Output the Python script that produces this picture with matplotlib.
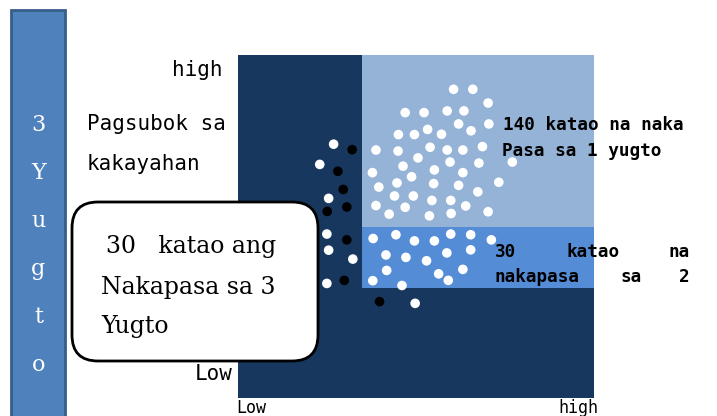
import matplotlib
matplotlib.use("Agg")
import matplotlib.pyplot as plt
from matplotlib.patches import Rectangle, FancyBboxPatch

# mga hangganan ng pagpasa (iskala 0-100)
pass_x = 35      # pahalang na axis
pass1_y = 50     # 1 yugto
pass2_y = 32     # 2 yugto

# puting tuldok sa madilim na bahagi
dark_x = [27.0, 23.1, 25.6, 25.1, 25.6, 32.4, 25.1, 49.9]
dark_y = [74.0, 68.1, 58.2, 47.8, 43.1, 40.5, 33.4, 27.6]

# nakapasa sa 1 yugto
pass1_x = [60.7, 66.1, 70.4, 47.1, 52.4, 58.9, 63.6, 62.1, 70.6, 65.6, 45.2, 49.7,
           53.4, 57.3, 38.9, 45.1, 54.1, 58.9, 63.3, 68.8, 50.7, 59.7, 67.8, 77.2,
           37.9, 46.5, 55.3, 63.3, 48.9, 73.4, 39.7, 44.8, 55.1, 62.1, 67.5, 44.1,
           49.4, 54.6, 59.9, 38.9, 47.1, 64.1, 42.6, 53.9, 60.0, 70.4]
pass1_y_vals = [90.0, 90.0, 86.0, 83.2, 83.2, 83.7, 83.7, 79.9, 79.9, 77.9, 76.8, 76.8,
                78.3, 76.9, 72.3, 72.0, 73.1, 72.3, 72.3, 73.3, 70.0, 68.8, 68.5, 68.8,
                65.7, 67.6, 66.5, 65.7, 64.5, 62.9, 61.5, 62.7, 62.5, 62.0, 60.1, 58.9,
                58.9, 57.6, 57.6, 56.1, 55.6, 56.0, 53.6, 53.1, 53.8, 54.3]

# nakapasa sa 2 yugto
pass2_x = [38.1, 44.5, 49.7, 55.3, 59.9, 65.5, 71.3, 41.7, 47.3, 53.1, 58.8, 65.5,
           41.9, 56.5, 59.2, 63.3, 38.0, 46.2]
pass2_y_vals = [46.5, 47.6, 45.8, 45.8, 47.8, 47.6, 46.1, 41.7, 41.0, 40.0, 42.3, 43.2,
                37.2, 36.2, 34.3, 37.5, 34.2, 32.8]

# itim na tuldok
black_x = [32.2, 28.2, 29.7, 30.7, 25.2, 30.7, 30.0, 39.9]
black_y = [72.4, 66.1, 60.8, 55.7, 54.4, 46.1, 34.3, 28.1]

navy = "#17375E"
light = "#95B3D7"
mid = "#548DD5"
gothic = "DejaVu Sans Mono"
serif = "DejaVu Serif"

W, H = 717, 416
fig = plt.figure(figsize=(W / 100, H / 100), dpi=100)

# pangunahing lugar ng tsart
ax = fig.add_axes([237.5 / W, (H - 398) / H, 356 / W, 343 / H])
ax.set_xlim(0, 100)
ax.set_ylim(0, 100)
ax.set_facecolor(navy)
ax.set_xticks([])
ax.set_yticks([])
for s in ax.spines.values():
    s.set_visible(False)
ax.set_zorder(1)

ax.add_patch(Rectangle((pass_x, pass1_y), 100 - pass_x, 100 - pass1_y, fc=light, ec="none"))
ax.add_patch(Rectangle((pass_x, pass2_y), 100 - pass_x, pass1_y - pass2_y, fc=mid, ec="none"))

ax.scatter(dark_x + pass1_x + pass2_x, dark_y + pass1_y_vals + pass2_y_vals,
           s=48, c="white", edgecolors="none", zorder=3)
ax.scatter(black_x, black_y, s=48, c="black", edgecolors="none", zorder=3)

# patong para sa mga teksto (pixel na coords)
ov = fig.add_axes([0, 0, 1, 1])
ov.set_xlim(0, W)
ov.set_ylim(H, 0)
ov.axis("off")
ov.patch.set_visible(False)
ov.set_zorder(2)

# asul na bar sa kaliwa
ov.add_patch(Rectangle((11, 10), 54, 430, fc="#4F81BD", ec="#385D8A", lw=2, clip_on=False))
for ch, yb in zip("3Yugto", [131, 179, 227, 275, 323, 371]):
    ov.text(38.5, yb, ch, color="white", family=serif, fontsize=16,
            ha="center", va="baseline")

# mga label ng axis
ov.text(222, 76, "high", family=gothic, fontsize=15, ha="right", va="baseline")
ov.text(87, 130, "Pagsubok sa", family=gothic, fontsize=15, ha="left", va="baseline")
ov.text(87, 170, "kakayahan", family=gothic, fontsize=15, ha="left", va="baseline")
ov.text(233, 380, "Low", family=gothic, fontsize=15, ha="right", va="baseline")
ov.text(236, 399, "Low", family=gothic, fontsize=12, ha="left", va="top")
ov.text(598, 399, "high", family=gothic, fontsize=12, ha="right", va="top")

# kahon
ov.add_patch(FancyBboxPatch((72, 202), 246, 159,
                            boxstyle="round,pad=0,rounding_size=26",
                            fc="white", ec="black", lw=2))
ov.text(106, 253, "30   katao ang", family=serif, fontsize=17, ha="left", va="baseline")
ov.text(101, 294, "Nakapasa sa 3", family=serif, fontsize=17, ha="left", va="baseline")
ov.text(101, 333, "Yugto", family=serif, fontsize=17, ha="left", va="baseline")

# mga label sa kanan
ov.text(503, 130, "140 katao na naka", family=gothic, fontsize=12.7,
        fontweight="bold", ha="left", va="baseline")
ov.text(502, 156, "Pasa sa 1 yugto", family=gothic, fontsize=12.7,
        fontweight="bold", ha="left", va="baseline")
ov.text(495, 257, "30", family=gothic, fontsize=12.7, fontweight="bold", va="baseline")
ov.text(566, 257, "katao", family=gothic, fontsize=12.7, fontweight="bold", va="baseline")
ov.text(690, 257, "na", family=gothic, fontsize=12.7, fontweight="bold",
        ha="right", va="baseline")
ov.text(495, 282, "nakapasa", family=gothic, fontsize=12.7, fontweight="bold", va="baseline")
ov.text(620, 282, "sa", family=gothic, fontsize=12.7, fontweight="bold", va="baseline")
ov.text(690, 282, "2", family=gothic, fontsize=12.7, fontweight="bold",
        ha="right", va="baseline")

fig.savefig("out.png", dpi=100)
